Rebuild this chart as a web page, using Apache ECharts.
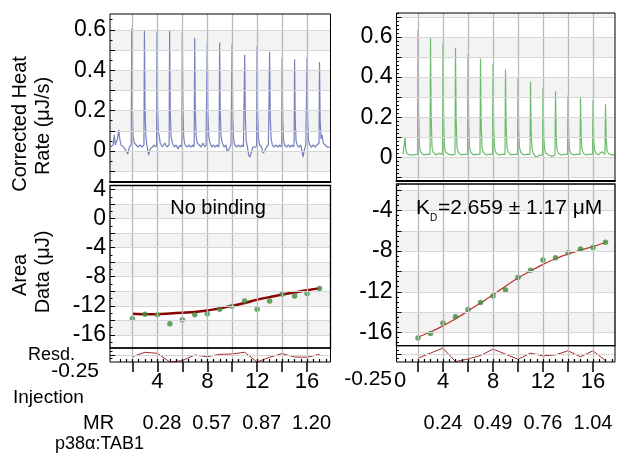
<!DOCTYPE html>
<html>
<head>
<meta charset="utf-8">
<script src="https://cdn.jsdelivr.net/npm/echarts@6.0.0/dist/echarts.min.js"></script>
<style>
html,body{margin:0;padding:0;background:#fff}
#chart{width:618px;height:457px}
</style>
</head>
<body>
<div id="chart"></div>
<script>
// ---- data ----
var injections = [2,3,4,5,6,7,8,9,10,11,12,13,14,15,16,17];

// raw thermogram, left (no binding), [injection position, µJ/s]
var heatTraceA = [
 [0.22,0.02],[0.45,0.03],[0.55,0.08],[0.62,0.03],[0.72,0.03],[0.8,0.06],[0.9,0.105],[0.98,0.06],[1.08,0.03],[1.3,0.02],[1.5,0.0],[1.62,-0.015],[1.75,0.02],[1.86,0.02],
 [1.9,0.03],[1.94,0.606],[1.99,0.22],[2.05,0.07],[2.15,0.04],[2.3,0.03],[2.45,0.02],[2.6,0.03],[2.75,0.02],[2.87,0.02],
 [2.92,0.03],[2.96,0.60],[3.01,0.2],[3.08,0.07],[3.15,0.03],[3.3,-0.02],[3.42,0.01],[3.6,0.02],[3.75,0.03],[3.87,0.02],
 [3.93,0.03],[3.97,0.59],[4.02,0.2],[4.08,0.09],[4.14,0.08],[4.22,0.04],[4.4,0.02],[4.6,0.04],[4.75,0.02],[4.88,0.02],
 [4.94,0.03],[4.98,0.594],[5.03,0.2],[5.1,0.07],[5.2,0.04],[5.35,0.02],[5.5,0.03],[5.65,0.01],[5.8,0.03],[5.9,0.02],
 [5.96,0.03],[6.0,0.583],[6.05,0.2],[6.12,0.06],[6.22,0.03],[6.4,0.02],[6.55,0.03],[6.7,0.02],[6.85,0.03],[6.91,0.02],
 [6.95,0.03],[6.99,0.56],[7.04,0.2],[7.11,0.07],[7.2,0.04],[7.35,0.03],[7.5,0.02],[7.65,0.04],[7.8,0.02],[7.9,0.03],
 [7.96,0.03],[8.0,0.54],[8.05,0.19],[8.12,0.07],[8.22,0.04],[8.35,0.02],[8.5,0.03],[8.65,0.02],[8.8,0.03],[8.9,0.02],
 [8.95,0.03],[8.99,0.537],[9.04,0.19],[9.11,0.07],[9.2,0.04],[9.35,0.02],[9.5,0.03],[9.62,-0.005],[9.75,0.01],[9.9,0.03],
 [9.95,0.03],[9.99,0.532],[10.04,0.18],[10.11,0.06],[10.2,0.03],[10.35,0.02],[10.5,0.03],[10.65,0.02],[10.8,0.03],[10.9,0.02],
 [10.96,0.02],[11.0,0.477],[11.05,0.17],[11.12,0.05],[11.22,0.02],[11.32,-0.02],[11.42,-0.03],[11.52,-0.01],[11.65,0.02],[11.8,0.02],[11.9,0.02],
 [11.95,0.03],[11.99,0.518],[12.04,0.18],[12.11,0.06],[12.2,0.03],[12.35,0.02],[12.48,-0.01],[12.6,0.0],[12.75,0.02],[12.9,0.03],
 [12.96,0.03],[13.0,0.49],[13.05,0.17],[13.12,0.06],[13.22,0.03],[13.35,0.02],[13.5,0.03],[13.65,0.02],[13.8,0.03],[13.9,0.02],
 [13.96,0.03],[14.0,0.462],[14.05,0.16],[14.12,0.05],[14.2,0.03],[14.35,0.02],[14.5,0.03],[14.65,0.02],[14.8,0.03],[14.9,0.02],
 [14.96,0.03],[15.0,0.454],[15.05,0.16],[15.12,0.05],[15.22,0.03],[15.35,0.02],[15.5,0.03],[15.6,0.0],[15.68,-0.03],[15.76,0.0],[15.9,0.03],
 [15.96,0.03],[16.0,0.462],[16.05,0.16],[16.12,0.05],[16.22,0.03],[16.35,0.02],[16.5,0.03],[16.65,0.02],[16.8,0.03],[16.9,0.03],
 [16.96,0.04],[17.0,0.44],[17.05,0.15],[17.12,0.06],[17.2,0.08],[17.3,0.04],[17.45,0.03],[17.6,0.02],[17.75,0.02],[17.88,0.02]
];

// raw thermogram, right (KD fit)
var heatTraceB = [
 [0.8,0.015],[0.92,0.02],[0.96,0.098],[1.02,0.04],[1.1,0.02],[1.3,0.012],[1.6,0.012],[1.96,0.015],
 [2.0,0.637],[2.05,0.22],[2.12,0.05],[2.22,0.025],[2.45,0.012],[2.7,0.015],[2.96,0.015],
 [3.0,0.597],[3.05,0.21],[3.12,0.05],[3.22,0.025],[3.45,0.012],[3.7,0.02],[3.96,0.015],
 [4.0,0.572],[4.05,0.2],[4.12,0.05],[4.22,0.025],[4.45,0.015],[4.7,0.012],[4.96,0.015],
 [5.0,0.547],[5.05,0.19],[5.12,0.05],[5.22,0.025],[5.45,0.012],[5.7,0.015],[5.96,0.015],
 [6.0,0.514],[6.05,0.18],[6.12,0.05],[6.22,0.025],[6.45,0.012],[6.7,0.015],[6.96,0.015],
 [7.0,0.493],[7.05,0.17],[7.12,0.05],[7.22,0.025],[7.45,0.012],[7.7,0.015],[7.96,0.015],
 [8.0,0.464],[8.05,0.16],[8.12,0.05],[8.22,0.025],[8.45,0.012],[8.7,0.015],[8.96,0.015],
 [9.0,0.438],[9.05,0.15],[9.12,0.05],[9.22,0.025],[9.45,0.012],[9.7,0.015],[9.96,0.015],
 [10.0,0.401],[10.05,0.14],[10.12,0.05],[10.22,0.025],[10.45,0.012],[10.7,0.015],[10.96,0.015],
 [11.0,0.378],[11.05,0.13],[11.12,0.045],[11.22,0.02],[11.45,0.0],[11.7,0.01],[11.96,0.012],
 [12.0,0.343],[12.05,0.12],[12.12,0.045],[12.22,0.02],[12.45,0.012],[12.7,0.005],[12.96,0.012],
 [13.0,0.33],[13.05,0.115],[13.12,0.04],[13.22,0.02],[13.45,0.012],[13.7,0.015],[13.96,0.015],
 [14.0,0.31],[14.05,0.11],[14.12,0.04],[14.22,0.02],[14.45,0.012],[14.7,0.015],[14.96,0.015],
 [15.0,0.302],[15.05,0.105],[15.12,0.04],[15.22,0.02],[15.45,0.012],[15.7,0.015],[15.96,0.015],
 [16.0,0.285],[16.05,0.1],[16.12,0.04],[16.22,0.02],[16.45,0.012],[16.7,0.028],[16.96,0.015],
 [17.0,0.265],[17.05,0.09],[17.12,0.035],[17.22,0.02],[17.45,0.012],[17.76,0.012]
];

// integrated heats (µJ) and fits
var areaA = [-13.74,-13.15,-13.24,-14.47,-13.93,-13.24,-13.1,-12.47,-12.05,-11.32,-12.47,-11.32,-10.41,-10.64,-10.32,-9.63];
var fitA  = [-13.1,-13.15,-13.15,-13.05,-12.95,-12.85,-12.65,-12.35,-12.0,-11.6,-11.15,-10.8,-10.45,-10.15,-9.85,-9.6];
var resdA = [-0.06,0.096,0.06,-0.25,-0.2,0.0,-0.06,0.025,0.036,0.096,-0.25,-0.08,0.05,-0.07,-0.08,0.025];

var areaB = [-16.55,-16.1,-15.08,-14.46,-13.75,-13.06,-12.41,-11.82,-10.6,-9.89,-8.88,-8.65,-8.16,-7.8,-7.64,-7.12];
var fitB  = [-16.45,-15.95,-15.35,-14.65,-13.9,-13.1,-12.3,-11.45,-10.65,-9.95,-9.3,-8.75,-8.3,-7.9,-7.55,-7.15];
var resdB = [-0.134,0.022,0.178,-0.24,-0.156,-0.053,0.147,-0.01,-0.166,0.022,-0.062,-0.03,0.094,-0.09,0.094,-0.21];

// tick labels
var heatLabels = [0,0.2,0.4,0.6];
var areaLabelsA = [4,0,-4,-8,-12,-16];
var areaLabelsB = [-4,-8,-12,-16];
var injLabels = [4,8,12,16];
var mrA = ['0.28','0.57','0.87','1.20'];
var mrB = ['0.24','0.49','0.76','1.04'];

var FONT = '"Liberation Sans", Arial, Helvetica, sans-serif';
var BAND = '#f3f3f3', HLINE = '#d6d6d6', VLINE = '#b8b8b8';

function range(a, b, step) {
    var out = [], n = Math.round((b - a) / step);
    for (var i = 0; i <= n; i++) out.push(Math.round((a + i * step) * 1000) / 1000);
    return out;
}
function pairs(xs, ys) { return xs.map(function (x, i) { return [x, ys[i]]; }); }

var grids = [], xAxes = [], yAxes = [], series = [];

function baseAxis(gi, mm, pos) {
    return {type: 'value', gridIndex: gi, min: mm[0], max: mm[1], z: 10, position: pos,
        axisLine: {show: false, onZero: false}, axisTick: {show: false}, axisLabel: {show: false}, splitLine: {show: false}};
}

function addPanel(p) {
    var gi = grids.length;
    grids.push({left: p.box[0], top: p.box[1], width: p.box[2], height: p.box[3], show: true,
        borderColor: '#000', borderWidth: p.border || 1, backgroundColor: 'transparent', z: 10});
    var xi = xAxes.length;
    xAxes.push(Object.assign(baseAxis(gi, p.x, 'bottom'), p.xMain || {}));
    (p.xExtra || []).forEach(function (a) { xAxes.push(Object.assign(baseAxis(gi, p.x, 'bottom'), a)); });
    var yi = yAxes.length;
    yAxes.push(Object.assign(baseAxis(gi, p.y, 'left'), {
        axisTick: {show: true, inside: true, length: 5, customValues: p.majorTicks, lineStyle: {color: '#000'}},
        axisLabel: p.labels ? {show: true, customValues: p.labels, margin: 4, fontSize: 23, color: '#000', fontFamily: FONT} : {show: false}
    }));
    yAxes.push(Object.assign(baseAxis(gi, p.y, 'left'), {
        axisTick: {show: true, inside: true, length: 2.5, customValues: p.minorTicks, lineStyle: {color: '#000'}}
    }));
    var lines = [];
    p.vlines.forEach(function (v) { lines.push({xAxis: v, lineStyle: {color: VLINE, width: 1.3, type: 'solid'}}); });
    p.hlines.forEach(function (v) { lines.push({yAxis: v, lineStyle: {color: HLINE, width: 1, type: 'solid'}}); });
    series.push({
        type: 'line', data: [], xAxisIndex: xi, yAxisIndex: yi, z: 1, silent: true,
        markArea: {silent: true, itemStyle: {color: BAND}, data: p.bands.map(function (b) { return [{yAxis: b[0]}, {yAxis: b[1]}]; })},
        markLine: {silent: true, symbol: ['none', 'none'], label: {show: false}, data: lines}
    });
    return {x: xi, y: yi};
}

var xL = [0.2, 17.88], xR = [0.28, 17.76];
var evens = range(2, 16, 2);
var thickBottom = {axisLine: {show: true, onZero: false, lineStyle: {color: '#000', width: 2}}};

function bottomAxes(mr, shift) {
    return {
        xMain: {
            axisTick: {show: true, inside: false, length: 10, customValues: evens, lineStyle: {color: '#000', width: 1.5}},
            axisLabel: {show: true, customValues: injLabels, margin: 9, fontSize: 22, color: '#000', fontFamily: FONT}
        },
        xExtra: [
            {axisTick: {show: true, inside: true, length: 3, customValues: range(1, 17.5, 0.5), lineStyle: {color: '#000', width: 1.2}}},
            {offset: 46, axisLabel: {show: true, customValues: injLabels, margin: 5.5, fontSize: 20, color: '#000', fontFamily: FONT,
                padding: [0, 0, 0, shift],
                formatter: function (v) { return mr[injLabels.indexOf(v)]; }}}
        ]
    };
}

// left column
var pA1 = addPanel({box: [110, 14, 220.5, 168], x: xL, y: [-0.153, 0.678], xMain: thickBottom,
    labels: heatLabels, majorTicks: range(-0.1, 0.6, 0.1), minorTicks: range(-0.15, 0.65, 0.05),
    vlines: evens, hlines: range(-0.1, 0.6, 0.1), bands: [[0.5, 0.6], [0.3, 0.4], [0.1, 0.2], [-0.1, 0]]});
var pA2 = addPanel({box: [110, 185.5, 220.5, 162.5], x: xL, y: [-17.8, 4.55], border: 1.3,
    labels: areaLabelsA, majorTicks: range(-16, 4, 2), minorTicks: range(-17, 4, 1),
    vlines: evens, hlines: range(-16, 4, 2), bands: [[0, 2], [-4, -2], [-8, -6], [-12, -10], [-16, -14]]});
var bA = bottomAxes(mrA, 9);
var pA3 = addPanel({box: [110, 348, 220.5, 14], x: xL, y: [-0.25, 0.25], xMain: bA.xMain, xExtra: bA.xExtra,
    majorTicks: [0], minorTicks: range(-0.125, 0.125, 0.125),
    vlines: evens, hlines: [0], bands: []});

// right column
var pB1 = addPanel({box: [396.5, 13, 218.5, 168], x: xR, y: [-0.118, 0.72], xMain: thickBottom,
    labels: heatLabels, majorTicks: range(-0.1, 0.7, 0.1), minorTicks: range(-0.1, 0.72, 0.02),
    vlines: evens, hlines: range(-0.1, 0.7, 0.1), bands: [[0.5, 0.6], [0.3, 0.4], [0.1, 0.2], [-0.1, 0], [0.7, 0.72]]});
var pB2 = addPanel({box: [396.5, 184, 218.5, 161.7], x: xR, y: [-17.3, -1.4], border: 1.3,
    labels: areaLabelsB, majorTicks: range(-16, -2, 2), minorTicks: range(-17, -1.5, 0.5),
    vlines: evens, hlines: range(-16, -2, 2), bands: [[-4, -2], [-8, -6], [-12, -10], [-16, -14]]});
var bB = bottomAxes(mrB, 0);
var pB3 = addPanel({box: [396.5, 345.7, 218.5, 16.3], x: xR, y: [-0.25, 0.25], xMain: bB.xMain, xExtra: bB.xExtra,
    majorTicks: [0], minorTicks: range(-0.125, 0.125, 0.125),
    vlines: evens, hlines: [0], bands: []});

function trace(p, data, color) {
    return {type: 'line', xAxisIndex: p.x, yAxisIndex: p.y, data: data, showSymbol: false, z: 3,
        lineStyle: {color: color, width: 1.2}};
}
function dots(p, ys) {
    return {type: 'scatter', xAxisIndex: p.x, yAxisIndex: p.y, data: pairs(injections, ys), z: 4,
        symbolSize: 5.5, itemStyle: {color: '#3f8c3f'}};
}
function fit(p, ys, color, w, smooth) {
    return {type: 'line', xAxisIndex: p.x, yAxisIndex: p.y, data: pairs(injections, ys), showSymbol: false, z: 3,
        smooth: smooth, lineStyle: {color: color, width: w}};
}

series.push(trace(pA1, heatTraceA, '#7880c0'));
series.push(trace(pB1, heatTraceB, '#6cbb6c'));
series.push(fit(pA2, fitA, '#8b0000', 2.5, 0.3));
series.push(dots(pA2, areaA));
series.push(fit(pB2, fitB, '#c0302c', 1.2, 0.3));
series.push(dots(pB2, areaB));
series.push(fit(pA3, resdA, '#a52a2a', 1, false));
series.push(fit(pB3, resdB, '#a52a2a', 1, false));

function txt(x, y, s, size, align, rot) {
    return {type: 'text', x: x, y: y, rotation: rot || 0, z: 20, silent: true,
        style: {text: s, font: size + 'px ' + FONT, fill: '#000',
            textAlign: align || 'left', align: align || 'left', textVerticalAlign: 'middle', verticalAlign: 'middle'}};
}

var graphics = [
    txt(20, 124, 'Corrected Heat', 20, 'center', Math.PI / 2),
    txt(43.5, 126, 'Rate (μJ/s)', 20, 'center', Math.PI / 2),
    txt(20, 275, 'Area', 20, 'center', Math.PI / 2),
    txt(43.5, 272, 'Data (μJ)', 20, 'center', Math.PI / 2),
    txt(218, 208, 'No binding', 20, 'center'),
    txt(416, 208, 'K', 21, 'left'),
    txt(430, 218.5, 'D', 10, 'left'),
    txt(438, 208, '=2.659 ± 1.17 μM', 21, 'left'),
    txt(28, 355, 'Resd.', 18, 'left'),
    txt(99, 371, '-0.25', 21, 'right'),
    txt(392, 379, '-0.25', 21, 'right'),
    txt(400, 381, '0', 22, 'center'),
    txt(13, 397.5, 'Injection', 19, 'left'),
    txt(83, 423.5, 'MR', 20, 'left'),
    txt(55, 444, 'p38α:TAB1', 18, 'left')
];

var chart = echarts.init(document.getElementById('chart'));
chart.setOption({
    animation: false,
    backgroundColor: '#fff',
    grid: grids,
    xAxis: xAxes,
    yAxis: yAxes,
    series: series,
    graphic: graphics
});
</script>
</body>
</html>
